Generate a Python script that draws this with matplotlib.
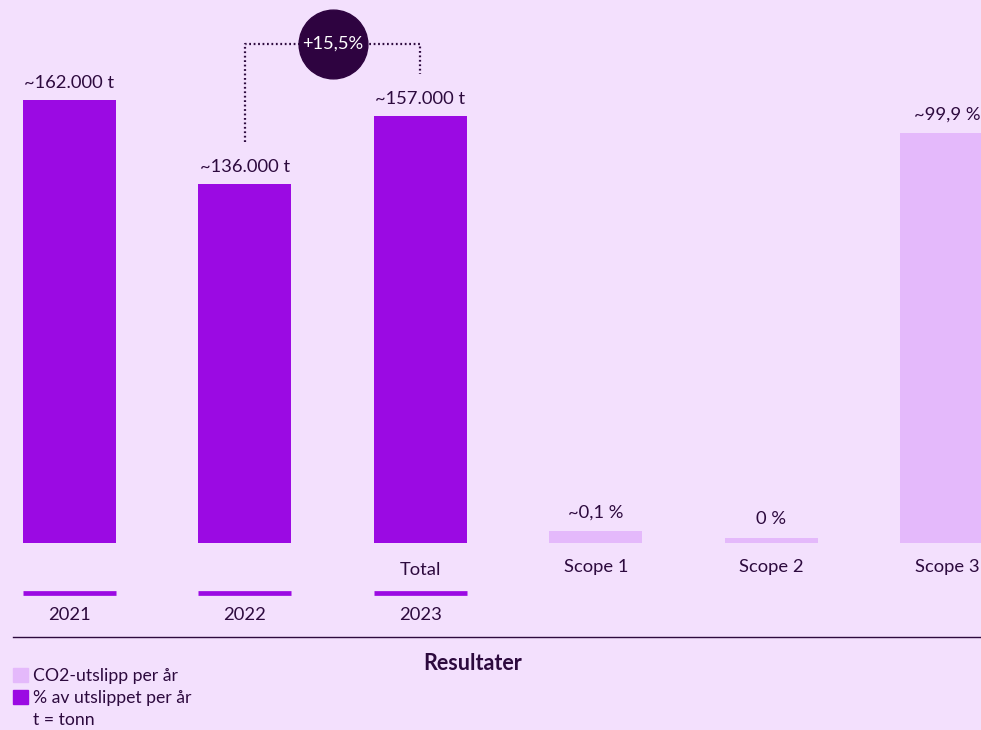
import numpy as np
import matplotlib.pyplot as plt
from matplotlib.patches import Patch
from matplotlib.lines import Line2D

plt.rcParams['font.family'] = ['Lato', 'DejaVu Sans']

# data
years = ['2021', '2022', '2023']
tonnes = [162000, 136000, 157000]
tonne_labels = ['~162.000 t', '~136.000 t', '~157.000 t']
change_label = '+15,5%'

scopes = ['Scope 1', 'Scope 2', 'Scope 3']
scope_labels = ['~0,1 %', '0 %', '~99,9 %']
# heights as drawn (tiny shares get a visible minimum)
scope_height = [2.9, 1.2, 99.9]

bg = '#f3e0fd'
dark = '#9b0ae3'
light = '#e4b9fb'
ink = '#2d0a3e'
circle_col = '#2e0340'

fig = plt.figure(figsize=(9.81, 7.30), dpi=100, facecolor=bg)
ax = fig.add_axes([0, 187 / 730, 1, 543 / 730])
ax.set_facecolor('none')
ax.set_xlim(-0.396, 5.194)
ax.set_ylim(25000, 193000)
ax.axis('off')

ax2 = ax.twinx()
ax2.set_facecolor('none')
ax2.set_ylim(0, 132.3)
ax2.axis('off')

x_year = np.arange(len(years))
x_scope = np.arange(len(scopes)) + len(years)
w = 0.53
fs = 13.2

ax.bar(x_year, tonnes, width=w, color=dark)
ax2.bar(x_scope, scope_height, width=w, color=light)

for x, v, lab in zip(x_year, tonnes, tonne_labels):
    ax.annotate(lab, (x, v), xytext=(0, 12.5), textcoords='offset points',
                ha='center', va='center', fontsize=fs, color=ink)
for x, v, lab in zip(x_scope, scope_height, scope_labels):
    ax2.annotate(lab, (x, v), xytext=(0, 13.5), textcoords='offset points',
                 ha='center', va='center', fontsize=fs, color=ink)

# labels under the bars
xt = ax.get_xaxis_transform()
ax.text(x_year[-1], -0.049, 'Total', transform=xt, ha='center', va='center',
        fontsize=fs, color=ink)
for x, s in zip(x_scope, scopes):
    ax.text(x, -0.044, s, transform=xt, ha='center', va='center',
            fontsize=fs, color=ink)
for x, y in zip(x_year, years):
    ax.plot([x - w / 2, x + w / 2], [-0.0912, -0.0912], transform=xt,
            color=dark, lw=3.4, solid_capstyle='butt', clip_on=False)
    ax.text(x, -0.133, y, transform=xt, ha='center', va='center',
            fontsize=fs, color=ink)

# change bracket 2022 -> 2023
y_top = 179400
ax.plot([1, 1, 2, 2], [tonnes[1] + 13000, y_top, y_top, tonnes[2] + 13000],
        color=ink, lw=1.6, dashes=(0.8, 1.2), clip_on=False)
ax.scatter([1.5], [y_top], s=2450, color=circle_col, zorder=3, clip_on=False)
ax.text(1.5, y_top, change_label, ha='center', va='center', fontsize=13.2,
        color='white', zorder=4)

# bottom section
fig.add_artist(Line2D([13 / 981, 1], [93 / 730, 93 / 730], color=ink, lw=1))
fig.text(473 / 981, 66 / 730, 'Resultater', ha='center', va='center',
         fontsize=15.5, fontweight='bold', color=ink)

handles = [Patch(color=light), Patch(color=dark), Patch(color='none')]
labels = ['CO2-utslipp per år', '% av utslippet per år', 't = tonn']
fig.legend(handles, labels, loc='upper left',
           bbox_to_anchor=(13 / 981, 62 / 730),
           frameon=False, fontsize=12.7, handlelength=0.85, handleheight=0.85,
           handletextpad=0.3, labelspacing=0.33, labelcolor=ink,
           borderaxespad=0, borderpad=0)

fig.savefig('out.png', dpi=100, facecolor=bg)
